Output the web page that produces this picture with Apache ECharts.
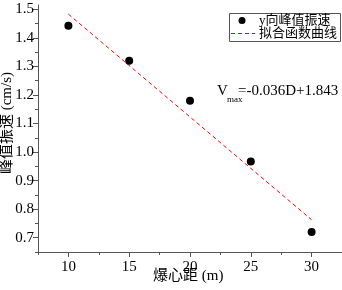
<!DOCTYPE html>
<html><head><meta charset="utf-8">
<script src="https://cdn.jsdelivr.net/npm/echarts@6/dist/echarts.min.js"></script>
<style>html,body{margin:0;padding:0;background:#fff}#c{width:342px;height:290px}</style>
</head><body><div id="c"></div>
<script>
var distances = [10, 15, 20, 25, 30];
var peakVelocity = [1.442, 1.320, 1.180, 0.967, 0.720];
var fitX = [10, 30];
var slope = -0.036, intercept = 1.843;
var xTicks = [10, 15, 20, 25, 30];
var xMinorTicks = [7.5, 12.5, 17.5, 22.5, 27.5, 32.5];
var yTicks = [0.7, 0.8, 0.9, 1.0, 1.1, 1.2, 1.3, 1.4, 1.5];
var yMinorTicks = [0.65, 0.75, 0.85, 0.95, 1.05, 1.15, 1.25, 1.35, 1.45];
var seriesNames = ['y向峰值振速', '拟合函数曲线'];
var xName = '爆心距 (m)', yName = '峰值振速 (cm/s)';

var fitData = fitX.map(function(x){ return [x, +(slope*x + intercept).toFixed(4)]; });
var serif = '"Liberation Serif","Noto Sans CJK SC",serif';
var axisColor = '#555';
var chart = echarts.init(document.getElementById('c'), null, {renderer:'canvas'});
chart.setOption({
  animation:false,
  grid:{left:38, right:0, top:5, bottom:38},
  xAxis:[{
    type:'value', min:7.5, max:32.5, position:'bottom',
    axisLine:{lineStyle:{color:axisColor, width:1}},
    axisTick:{customValues:xTicks, length:5, lineStyle:{color:axisColor}},
    axisLabel:{customValues:xTicks, color:'#000', fontFamily:serif, fontSize:15, margin:8},
    splitLine:{show:false}
  },{
    type:'value', min:7.5, max:32.5, position:'bottom',
    axisLine:{show:false},
    axisTick:{customValues:xMinorTicks, length:3, lineStyle:{color:axisColor}},
    axisLabel:{show:false}, splitLine:{show:false}
  }],
  yAxis:[{
    type:'value', min:0.65, max:1.515, position:'left',
    axisLine:{show:true, lineStyle:{color:axisColor, width:1}},
    axisTick:{show:true, customValues:yTicks, length:5, lineStyle:{color:axisColor}},
    axisLabel:{customValues:yTicks, color:'#000', fontFamily:serif, fontSize:15, margin:4,
      formatter:function(v){return v.toFixed(1);}},
    splitLine:{show:false}
  },{
    type:'value', min:0.65, max:1.515, position:'left',
    axisLine:{show:false},
    axisTick:{show:true, customValues:yMinorTicks, length:3, lineStyle:{color:axisColor}},
    axisLabel:{show:false}, splitLine:{show:false}
  }],
  series:[{
    name:seriesNames[0], type:'scatter', xAxisIndex:0, yAxisIndex:0,
    symbol:'circle', symbolSize:8, itemStyle:{color:'#000', opacity:1},
    data:distances.map(function(d,i){return [d, peakVelocity[i]];}), z:3
  },{
    name:seriesNames[1], type:'line', xAxisIndex:0, yAxisIndex:0,
    showSymbol:false, symbol:'none',
    lineStyle:{color:'#ff0000', width:1, type:[4,3]},
    data:fitData
  }],
  graphic:[
    {type:'rect', shape:{x:229.5, y:13.5, width:111, height:28}, style:{fill:'#fff', stroke:'#555', lineWidth:1}, z:10},
    {type:'circle', shape:{cx:242, cy:20.5, r:3.5}, style:{fill:'#000'}, z:11},
    {type:'line', shape:{x1:231, y1:33.5, x2:255, y2:33.5}, style:{stroke:'#ff0000', lineWidth:1, lineDash:[4,3]}, z:11},
    {type:'text', x:259, y:20.5, style:{text:seriesNames[0], font:'13px '+serif, fill:'#000', verticalAlign:'middle'}, z:11},
    {type:'text', x:259, y:33.5, style:{text:seriesNames[1], font:'13px '+serif, fill:'#000', verticalAlign:'middle'}, z:11},
    {type:'text', left:217, top:84, style:{text:'V', font:'15px '+serif, fill:'#000'}},
    {type:'text', left:227, top:95, style:{text:'max', font:'9px '+serif, fill:'#000'}},
    {type:'text', left:238, top:84, style:{text:'=-0.036D+1.843', font:'15px '+serif, fill:'#000'}},
    {type:'text', left:153, top:269, style:{text:xName, font:'15px '+serif, fill:'#000'}},
    {type:'text', x:0, y:123, rotation:Math.PI/2, style:{text:yName, font:'15px '+serif, fill:'#000', align:'center', verticalAlign:'top'}}
  ]
});
</script></body></html>
